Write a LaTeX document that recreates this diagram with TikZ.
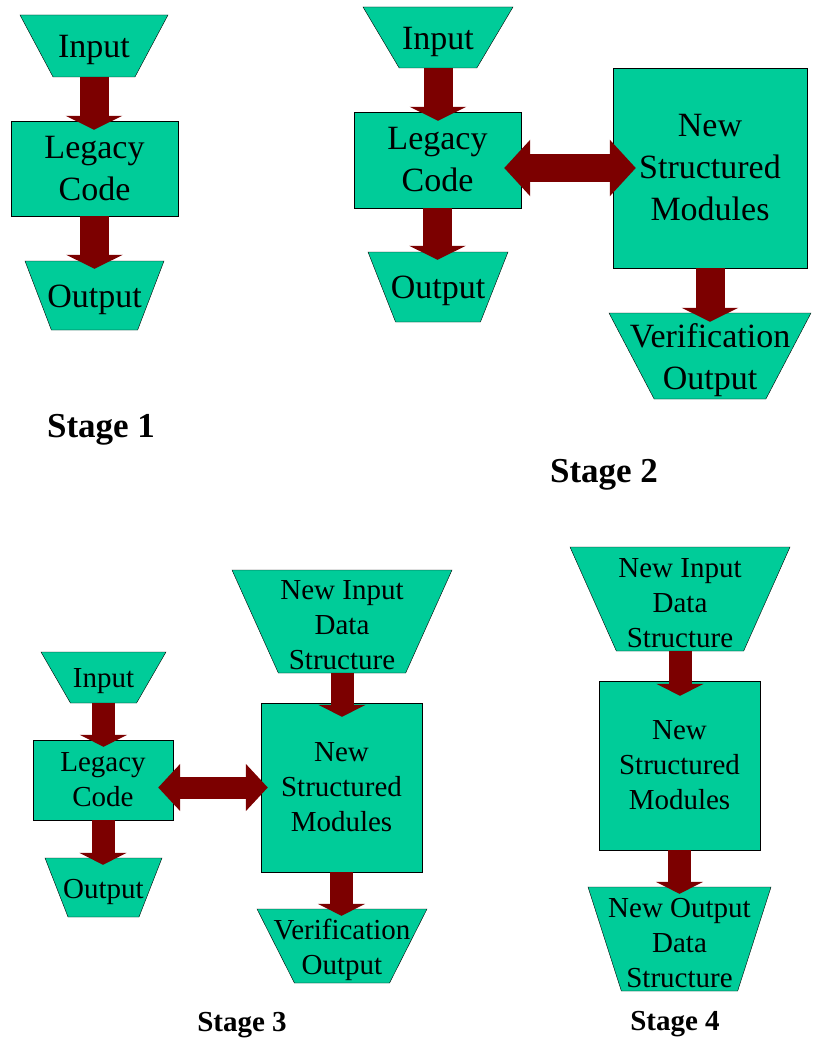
\documentclass[tikz,border=0pt]{standalone}
\usepackage{fontspec}
\setmainfont{Liberation Serif}
\usetikzlibrary{positioning, arrows.meta, shapes.geometric}
\definecolor{BoxColor}{RGB}{0,204,153}
\definecolor{FlowColor}{RGB}{124,0,0}
\tikzstyle{module} = [rectangle, draw=black, fill=BoxColor, inner sep=0pt, align=center]
\tikzstyle{io} = [trapezium, trapezium stretches=true, shape border rotate=180, draw=black, fill=BoxColor, inner sep=1pt]
\tikzstyle{flow} = [FlowColor, line width=29pt, -{Triangle[length=14pt, width=56pt]}]
\tikzstyle{flowsmall} = [FlowColor, line width=23pt, -{Triangle[length=12pt, width=47pt]}]
\tikzstyle{link} = [FlowColor, line width=28pt, {Triangle[length=26pt, width=55pt]}-{Triangle[length=26pt, width=55pt]}]
\tikzstyle{linksmall} = [FlowColor, line width=22pt, {Triangle[length=22pt, width=46pt]}-{Triangle[length=22pt, width=46pt]}]
\tikzset{
  big/.style={font=\fontsize{34}{42}\selectfont},
  small/.style={font=\fontsize{29}{35}\selectfont},
  iotext/.style={align=center, yshift=-4pt, inner sep=0pt},
  stagelabel/.style={font=\fontsize{35}{42}\selectfont\bfseries, anchor=base},
  stagelabelsmall/.style={font=\fontsize{29}{35}\selectfont\bfseries, anchor=base}
}

\begin{document}
\begin{tikzpicture}[x=1pt, y=-1pt]
    \useasboundingbox (0,0) rectangle (812,1046);

    % Stage 1
    \node[io, minimum width=148pt, minimum height=62pt, trapezium angle=68,
          label={[iotext, big]center:Input}] (in1) at (94,46) {};
    \node[module, big, minimum width=167pt, minimum height=95pt] (leg1) at (94.5,168.5) {Legacy\\Code};
    \node[io, minimum width=139pt, minimum height=69pt, trapezium angle=73,
          label={[iotext, big]center:Output}] (out1) at (94.5,295.5) {};
    \draw[flow, shorten >=-9pt] (in1.south) -- (in1.south |- leg1.north);
    \draw[flow, shorten >=-8pt] (leg1.south) -- (leg1.south |- out1.north);
    \node[stagelabel] (st1) at (101,437) {Stage 1};

    % Stage 2
    \node[io, minimum width=150pt, minimum height=61pt, trapezium angle=65,
          label={[iotext, big]center:Input}] (in2) at (438,37.5) {};
    \node[module, big, minimum width=167pt, minimum height=96pt] (leg2) at (437.5,160) {Legacy\\Code};
    \node[io, minimum width=140pt, minimum height=70pt, trapezium angle=72,
          label={[iotext, big]center:Output}] (out2) at (438,287) {};
    \node[module, big, minimum width=194pt, minimum height=200pt] (nsm2) at (710,168) {New\\Structured\\Modules};
    \node[io, minimum width=202pt, minimum height=86pt, trapezium angle=68,
          label={[iotext, big]center:Verification\\Output}] (ver2) at (710,356) {};
    \draw[flow, shorten >=-9pt] (in2.south) -- (in2.south |- leg2.north);
    \draw[flow, shorten >=-8pt] (leg2.south) -- (leg2.south |- out2.north);
    \draw[flow, shorten >=-9pt] (nsm2.south) -- (nsm2.south |- ver2.north);
    \draw[link, shorten <=-17pt, shorten >=-23pt] (leg2.east |- nsm2.west) -- (nsm2.west);
    \node[stagelabel] (st2) at (604,482) {Stage 2};

    % Stage 3
    \node[io, minimum width=125pt, minimum height=51pt, trapezium angle=66,
          label={[iotext, small]center:Input}] (in3) at (103.5,677.5) {};
    \node[module, small, minimum width=140pt, minimum height=80pt] (leg3) at (103,780) {Legacy\\Code};
    \node[io, minimum width=117pt, minimum height=59pt, trapezium angle=72,
          label={[iotext, small]center:Output}] (out3) at (103.5,887.5) {};
    \node[io, minimum width=220pt, minimum height=103pt, trapezium angle=70,
          label={[iotext, small]center:New Input\\Data\\Structure}] (nids3) at (342,621.5) {};
    \node[module, small, minimum width=161pt, minimum height=169pt] (nsm3) at (341.5,787.5) {New\\Structured\\Modules};
    \node[io, minimum width=170pt, minimum height=74pt, trapezium angle=68.5,
          label={[iotext, small]center:Verification\\Output}] (ver3) at (342,946) {};
    \draw[flowsmall, shorten >=-7pt] (in3.south) -- (in3.south |- leg3.north);
    \draw[flowsmall, shorten >=-7pt] (leg3.south) -- (leg3.south |- out3.north);
    \draw[flowsmall, shorten >=-14pt] (nids3.south) -- (nids3.south |- nsm3.north);
    \draw[flowsmall, shorten >=-7pt] (nsm3.south) -- (nsm3.south |- ver3.north);
    \draw[linksmall, shorten <=-15pt, shorten >=-7pt] (leg3.east |- nsm3.west) -- (nsm3.west);
    \node[stagelabelsmall] (st3) at (242,1031) {Stage 3};

    % Stage 4
    \node[io, minimum width=220pt, minimum height=104pt, trapezium angle=70,
          label={[iotext, small]center:New Input\\Data\\Structure}] (nids4) at (680,599) {};
    \node[module, small, minimum width=161pt, minimum height=169pt] (nsm4) at (679.5,765.5) {New\\Structured\\Modules};
    \node[io, minimum width=183pt, minimum height=104pt, trapezium angle=74,
          label={[iotext, small]center:New Output\\Data\\Structure}] (nods4) at (679.5,939) {};
    \draw[flowsmall, shorten >=-15pt] (nids4.south) -- (nids4.south |- nsm4.north);
    \draw[flowsmall, shorten >=-7pt] (nsm4.south) -- (nsm4.south |- nods4.north);
    \node[stagelabelsmall] (st4) at (675,1030) {Stage 4};
\end{tikzpicture}
\end{document}
